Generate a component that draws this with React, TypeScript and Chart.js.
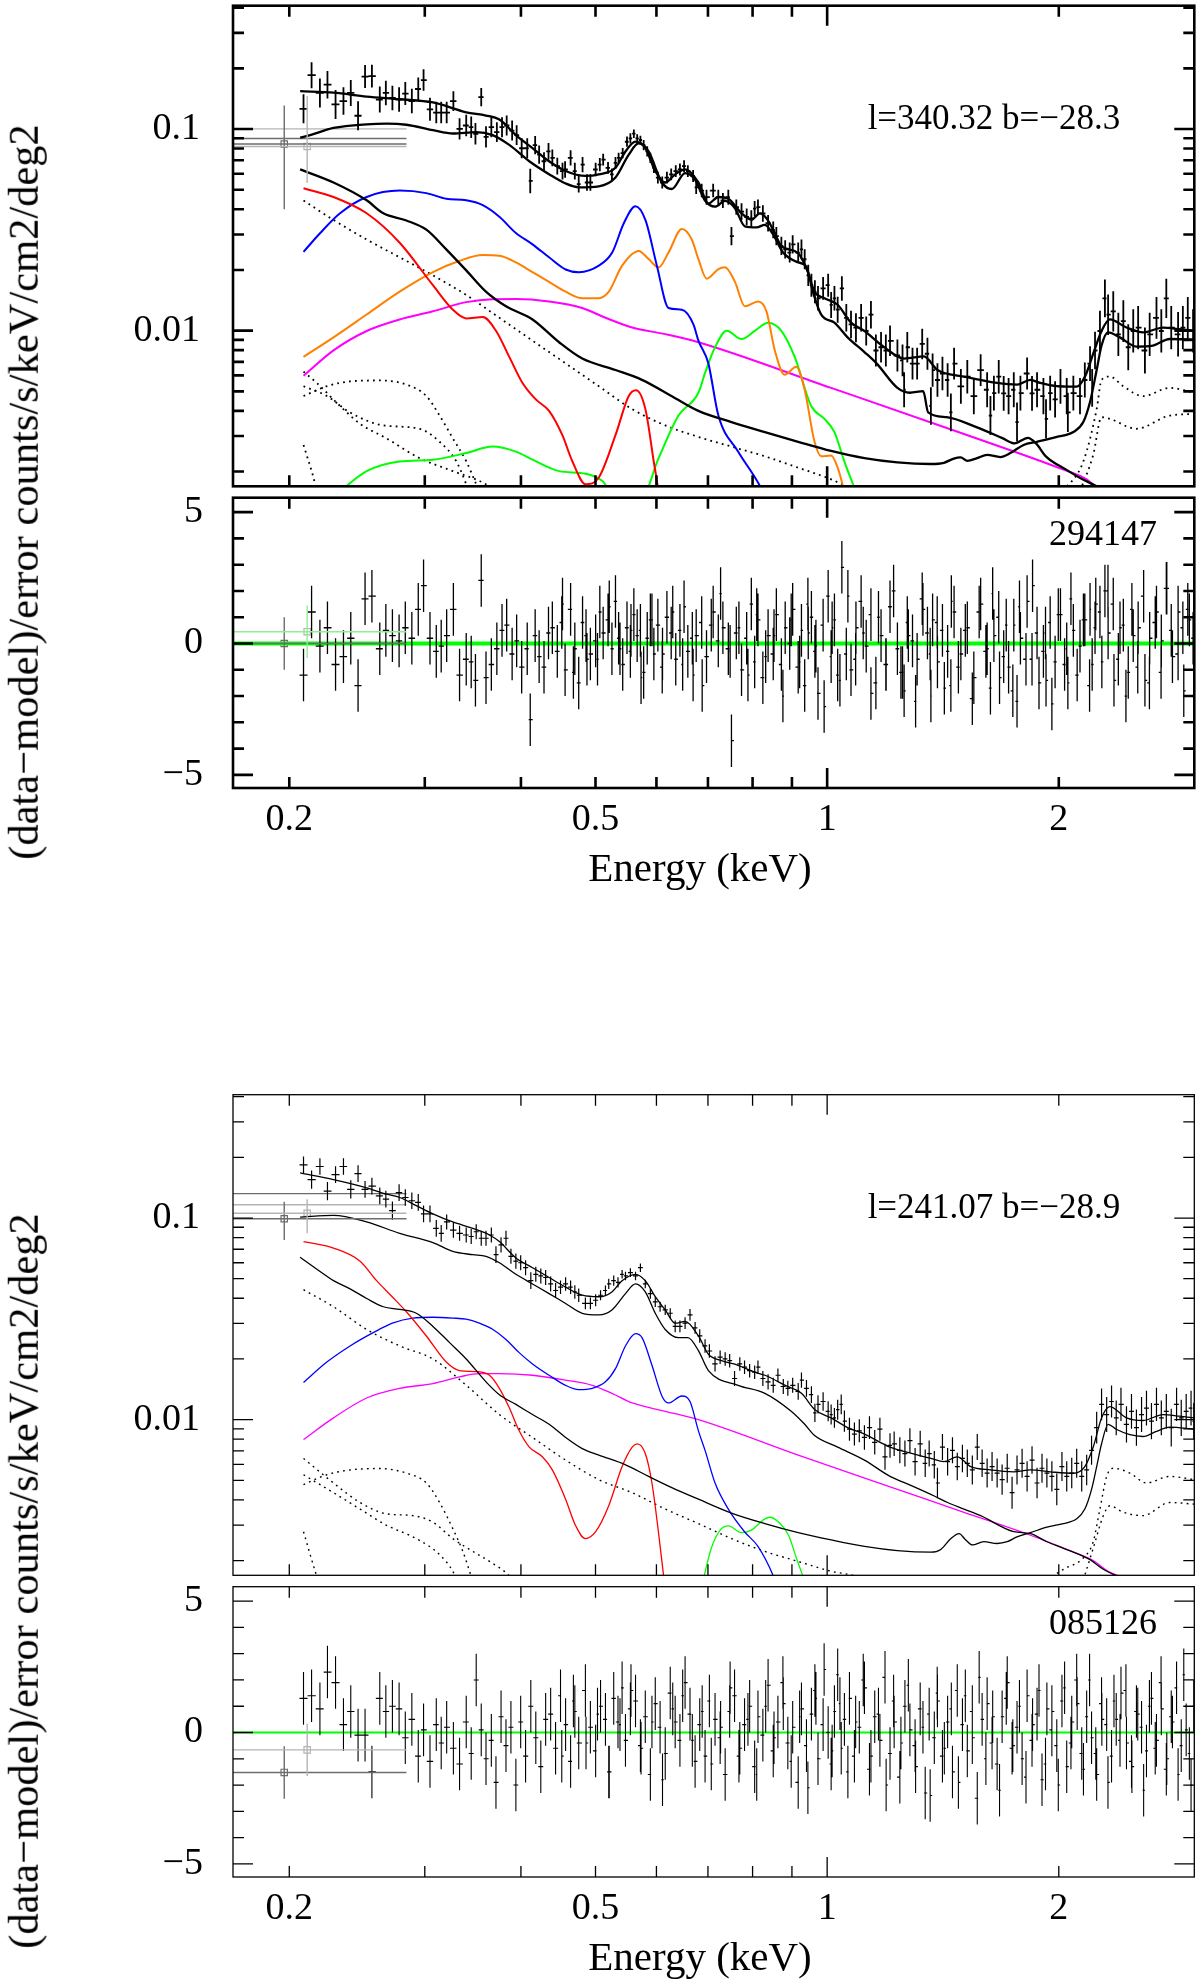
import React, { useEffect, useRef } from "react";
import { Chart, registerables } from "chart.js";

Chart.register(...registerables);

type Pt = [number, number];
type Obs = [number, number, number]; // energy (keV), flux, fractional error

const SERIF = '"Liberation Serif", "Times New Roman", serif';

// axis ranges
const E_MIN = 0.169;
const E_MAX = 3.0;
const F_MIN = 0.00169;
const F_MAX = 0.409;
const R_MIN = -5.5;
const R_MAX = 5.55;

// tick marks and labels
const energyLabels = [0.2, 0.5, 1, 2];
const energyMinor = [0.2, 0.3, 0.4, 0.5, 0.6, 0.7, 0.8, 0.9, 2];
const energyMajor = [1];
const fluxLabels = [0.01, 0.1];
const fluxMinor = [0.002, 0.003, 0.004, 0.005, 0.006, 0.007, 0.008, 0.009, 0.02, 0.03, 0.04, 0.05, 0.06, 0.07, 0.08, 0.09, 0.2, 0.3, 0.4];
const residLabels = [-5, 0, 5];
const residMinor = [-4, -3, -2, -1, 1, 2, 3, 4];

// ---------------- field 1 : l=340.32 b=-28.3 (294147)
const f1Data: Obs[] = [
  [0.2087, 0.126, 0.18], [0.2138, 0.185, 0.16], [0.2192, 0.151, 0.18], [0.2242, 0.166, 0.17], [0.2297, 0.1325, 0.18],
  [0.2352, 0.1376, 0.17], [0.2404, 0.151, 0.16], [0.2457, 0.1164, 0.18], [0.2509, 0.182, 0.14], [0.2561, 0.183, 0.14],
  [0.2622, 0.14, 0.16], [0.267, 0.151, 0.15], [0.2723, 0.1427, 0.15], [0.2778, 0.14, 0.15], [0.283, 0.15, 0.14],
  [0.2886, 0.1376, 0.15], [0.2942, 0.158, 0.14], [0.2989, 0.175, 0.13], [0.3047, 0.1253, 0.14],
  [0.3105, 0.1207, 0.13], [0.3151, 0.1207, 0.13], [0.3203, 0.1207, 0.13], [0.3268, 0.1376, 0.12], [0.3329, 0.1002, 0.13],
  [0.3396, 0.1041, 0.13], [0.3447, 0.1021, 0.13], [0.3491, 0.0947, 0.13], [0.3552, 0.1439, 0.11], [0.3603, 0.0914, 0.13],
  [0.3661, 0.1021, 0.12], [0.3722, 0.0965, 0.12], [0.378, 0.1021, 0.12], [0.3833, 0.1041, 0.12], [0.3896, 0.0983, 0.12],
  [0.3949, 0.0932, 0.12], [0.4009, 0.0803, 0.12], [0.4076, 0.0803, 0.12], [0.4113, 0.0553, 0.15], [0.4174, 0.0833, 0.11],
  [0.4224, 0.0746, 0.11], [0.4286, 0.0692, 0.11], [0.4344, 0.0774, 0.1], [0.4394, 0.0719, 0.1], [0.446, 0.0654, 0.1],
  [0.453, 0.0618, 0.1], [0.4565, 0.063, 0.1], [0.4641, 0.0719, 0.09], [0.47, 0.0618, 0.1], [0.4755, 0.0533, 0.1],
  [0.481, 0.0666, 0.09], [0.4874, 0.0543, 0.1], [0.4924, 0.0543, 0.1], [0.5002, 0.063, 0.08],
  [0.5065, 0.0666, 0.08], [0.5116, 0.0705, 0.07], [0.5191, 0.0642, 0.07], [0.5252, 0.0596, 0.07], [0.5308, 0.0679, 0.07],
  [0.5358, 0.0719, 0.06], [0.5424, 0.076, 0.06], [0.5494, 0.0865, 0.06], [0.555, 0.0898, 0.06], [0.5608, 0.0948, 0.05],
  [0.5664, 0.0898, 0.05], [0.5719, 0.0882, 0.05], [0.5775, 0.0833, 0.06], [0.5837, 0.0774, 0.06], [0.5892, 0.0719, 0.06],
  [0.5954, 0.0642, 0.06], [0.6026, 0.0574, 0.07], [0.6105, 0.0543, 0.07], [0.6191, 0.0574, 0.07], [0.6271, 0.0596, 0.07],
  [0.6357, 0.0618, 0.07], [0.6437, 0.063, 0.07], [0.6517, 0.0654, 0.07], [0.6591, 0.0618, 0.07], [0.6696, 0.0585, 0.07],
  [0.6758, 0.0514, 0.08],
  [0.687, 0.0495, 0.08], [0.697, 0.0459, 0.09], [0.711, 0.0495, 0.08], [0.722, 0.0459, 0.09], [0.732, 0.0442, 0.09],
  [0.744, 0.0459, 0.09], [0.751, 0.0294, 0.11], [0.762, 0.041, 0.09], [0.774, 0.0389, 0.1], [0.786, 0.0367, 0.1],
  [0.797, 0.036, 0.1], [0.805, 0.0403, 0.09], [0.813, 0.041, 0.09], [0.825, 0.0381, 0.1], [0.838, 0.0341, 0.1],
  [0.851, 0.0316, 0.1], [0.859, 0.0294, 0.11], [0.872, 0.0263, 0.11], [0.882, 0.0253, 0.11], [0.894, 0.0244, 0.12],
  [0.902, 0.0268, 0.11], [0.917, 0.0244, 0.12], [0.926, 0.0253, 0.12], [0.935, 0.0226, 0.12], [0.945, 0.0188, 0.13],
  [0.954, 0.0168, 0.14], [0.964, 0.0156, 0.14], [0.973, 0.01446, 0.15], [0.988, 0.0162, 0.14], [1.003, 0.0168, 0.14],
  [1.012, 0.01342, 0.16], [1.022, 0.01446, 0.15], [1.032, 0.01271, 0.16], [1.045, 0.0162, 0.15], [1.059, 0.01157, 0.17],
  [1.074, 0.01073, 0.17], [1.09, 0.01034, 0.18], [1.107, 0.01157, 0.17], [1.124, 0.00996, 0.18], [1.14, 0.012, 0.17],
  [1.157, 0.00797, 0.2], [1.175, 0.00827, 0.19], [1.192, 0.00797, 0.2], [1.207, 0.0089, 0.19], [1.234, 0.00753, 0.2],
  [1.253, 0.00712, 0.2], [1.259, 0.00509, 0.22], [1.271, 0.00827, 0.19], [1.291, 0.00686, 0.2], [1.309, 0.00686, 0.2],
  [1.329, 0.00859, 0.19], [1.35, 0.00768, 0.2], [1.364, 0.00423, 0.24], [1.371, 0.00637, 0.21], [1.391, 0.00569, 0.21],
  [1.412, 0.00613, 0.21], [1.434, 0.00569, 0.21], [1.448, 0.00393, 0.24], [1.462, 0.00686, 0.2], [1.492, 0.00529, 0.22],
  [1.521, 0.00591, 0.21], [1.551, 0.00473, 0.23], [1.583, 0.00637, 0.2], [1.614, 0.00509, 0.22], [1.63, 0.00379, 0.25],
  [1.647, 0.0049, 0.22], [1.671, 0.00591, 0.21], [1.696, 0.00488, 0.22], [1.721, 0.00473, 0.23], [1.748, 0.00509, 0.22],
  [1.765, 0.00352, 0.25], [1.783, 0.0049, 0.22], [1.819, 0.00613, 0.2], [1.846, 0.00488, 0.22], [1.874, 0.00509, 0.22],
  [1.91, 0.00473, 0.23], [1.925, 0.00365, 0.25], [1.949, 0.0049, 0.22], [1.978, 0.00456, 0.23], [2.01, 0.00529, 0.22],
  [2.048, 0.00473, 0.23], [2.055, 0.00393, 0.25], [2.089, 0.0049, 0.22], [2.131, 0.00473, 0.23], [2.162, 0.00569, 0.22],
  [2.196, 0.00686, 0.22], [2.21, 0.0052, 0.24], [2.229, 0.00797, 0.24],
  [2.262, 0.00996, 0.26], [2.296, 0.01446, 0.24], [2.318, 0.012, 0.26], [2.354, 0.01246, 0.26], [2.39, 0.00959, 0.28],
  [2.426, 0.01115, 0.27], [2.462, 0.00827, 0.3], [2.499, 0.00996, 0.28], [2.536, 0.01034, 0.28], [2.588, 0.00797, 0.3],
  [2.625, 0.00959, 0.28], [2.679, 0.01157, 0.27], [2.718, 0.00996, 0.28], [2.759, 0.01446, 0.25], [2.8, 0.01034, 0.28],
  [2.858, 0.00959, 0.29], [2.899, 0.01034, 0.28], [2.942, 0.01157, 0.27], [2.989, 0.00996, 0.28],
];

// residuals of the points above, in the same order
const f1Resid: number[] = [
  -1.2, 1.2, -0.1, 0.6, -0.8, -0.5, 0.2, -1.6, 1.7, 1.8, -0.2, 0.5, 0.3, 0.1, 0.6, 0.2, 1.3, 2.2, 0.2,
  -0.3, -0.1, 0.3, 1.3, -1.2, -0.6, -0.7, -1.4, 2.4, -1.3, -0.8, -0.2, 0.5, 0.7, -0.4, 0.1, -0.9, -0.2, -2.9, 0.3, -0.5,
  -0.9, 0.4, 0.6, -0.3, 1.5, -1.0, 1.3, -0.2, -1.5, 0.8, -0.6, -0.4, 0.1, 1.2, 0.4, 0.9, -0.2, 1.6, 0.2, -0.8,
  0.6, -0.3, 1.1, 0.3, 0.5, -1.1, 0.2, 0.9, -0.4, 0.7, -0.9, 1.0, 0.4, -0.6, 0.5, 1.4, -0.3, -1.2, 0.3, 0.8,
  -0.5, 1.2, 0.1, 0.6, -0.2, -3.7, 0.4, -1.0, 0.2, 1.5, -0.7, 0.9, -1.3, 0.3, -0.4, 1.1, -0.8, 0.6, 0.0, 1.3,
  -0.9, 0.5, -1.6, 0.4, 1.0, -0.3, -1.9, 0.7, 1.8, -0.5, 0.9, -1.2, 2.9, -0.4, -1.0, 0.6, 1.6, -0.1, 1.1, -1.5,
  0.3, -0.8, 1.4, -0.2, -1.1, -1.8, 0.8, 0.1, -0.6, 1.7, 0.4, -2.0, 0.9, -0.7, 0.5, -0.3, -1.6, 1.2, -0.4, 0.6,
  -1.3, 1.5, -0.2, -1.7, 0.3, 1.0, -0.5, -0.9, 0.7, -2.2, 0.2, 1.6, -0.6, 0.4, -0.3, -1.4, 0.8, -0.7, 1.1, -0.2,
  -1.5, 0.5, -0.1, 0.9, 1.3, -0.8, 0.6, 1.2, 2.0, 0.4, 1.5, -0.6, 0.7, -1.1, 0.3, 0.6, -1.4, 0.2, 1.2, 0.1,
  2.1, 0.5, -0.4, 0.6, 1.3, 0.2, -0.5, 0.8, 0.3, -0.2,
];

// residuals of the second spectrum (energy, residual)
const f1ResidB: Pt[] = [
  [0.452, 0.8], [0.468, -1.1], [0.486, 0.3], [0.503, -0.6], [0.521, 1.4], [0.538, -0.2], [0.556, 0.5], [0.573, -1.3],
  [0.592, 0.9], [0.611, -0.4], [0.63, 1.2], [0.649, -0.8], [0.668, 0.2], [0.688, -1.6], [0.707, 0.7], [0.727, 1.9],
  [0.748, -0.3], [0.768, 0.6], [0.789, -1.2], [0.81, 1.1], [0.832, -0.5], [0.853, 0.3], [0.876, -2.0], [0.898, 0.9],
  [0.921, -0.7], [0.944, 1.5], [0.967, -0.1], [0.991, -2.4], [1.015, 0.6], [1.039, -1.4], [1.064, 1.8], [1.089, -0.6],
  [1.114, 0.4], [1.14, -1.9], [1.166, 1.0], [1.193, -0.8], [1.22, 2.0], [1.247, -1.1], [1.275, 0.3], [1.303, -2.2],
  [1.332, 1.3], [1.361, -0.4], [1.39, 0.8], [1.42, -1.7], [1.45, 1.6], [1.481, -0.9], [1.512, 0.5], [1.544, -2.1],
  [1.576, 1.2], [1.608, -0.3], [1.641, 1.9], [1.675, -1.3], [1.709, 0.7], [1.743, -1.8], [1.778, 1.4], [1.813, -0.6],
  [1.849, 2.2], [1.885, -1.5], [1.922, 0.4], [1.959, -2.3], [1.997, 1.1], [2.035, -0.8], [2.074, 1.7], [2.113, -1.2],
  [2.153, 0.9], [2.193, -1.6], [2.234, 1.5], [2.275, -0.7], [2.317, 2.0], [2.359, -1.4], [2.402, 0.6], [2.445, -2.0],
  [2.489, 1.3], [2.533, -0.9], [2.578, 1.8], [2.623, -1.5], [2.669, 0.8], [2.716, -1.1], [2.763, 2.1], [2.81, -0.5],
  [2.858, 1.2], [2.907, -1.8], [2.956, 0.9],
];

const f1Total: Pt[] = [
  [0.2066, 0.1542], [0.2283, 0.1514], [0.2521, 0.1448], [0.2783, 0.1405], [0.3074, 0.1354], [0.3396, 0.1211],
  [0.3602, 0.1167], [0.375, 0.1115], [0.394, 0.0933], [0.4141, 0.0804], [0.4351, 0.0692], [0.4572, 0.0619],
  [0.4854, 0.0585], [0.505, 0.0596], [0.5308, 0.0643], [0.5469, 0.0774], [0.5634, 0.0866], [0.5805, 0.0804],
  [0.5979, 0.0619], [0.616, 0.0543], [0.6346, 0.0596], [0.6537, 0.0631], [0.6803, 0.0543], [0.7008, 0.0427],
  [0.7222, 0.046], [0.744, 0.0451], [0.7741, 0.0382], [0.7975, 0.0355], [0.8176, 0.0382], [0.8339, 0.0361],
  [0.8507, 0.0317], [0.8719, 0.0263], [0.917, 0.0242], [0.944, 0.0195], [0.963, 0.0156], [0.992, 0.01448],
  [1.032, 0.01344], [1.074, 0.01095], [1.118, 0.00996], [1.186, 0.00828], [1.259, 0.00727], [1.336, 0.00746],
  [1.391, 0.00638], [1.506, 0.00592], [1.663, 0.0055], [1.765, 0.0054], [1.837, 0.0057], [1.892, 0.0055],
  [1.988, 0.0053], [2.11, 0.00527], [2.163, 0.00592], [2.217, 0.00769], [2.273, 0.00996], [2.33, 0.01136],
  [2.449, 0.01036], [2.574, 0.0098], [2.732, 0.01036], [2.871, 0.01016], [3.0, 0.00996],
];
const f1Sky: Pt[] = [
  [0.2066, 0.0906], [0.2129, 0.0933], [0.2283, 0.1012], [0.2521, 0.1055], [0.2676, 0.1063], [0.2839, 0.105],
  [0.3074, 0.0987], [0.3263, 0.095], [0.3499, 0.0966], [0.3675, 0.0933], [0.3863, 0.0834], [0.4101, 0.0692],
  [0.4351, 0.0597], [0.4572, 0.0537], [0.4758, 0.0514], [0.505, 0.052], [0.5308, 0.0575], [0.5523, 0.0746],
  [0.5689, 0.085], [0.5861, 0.0774], [0.6099, 0.0543], [0.6283, 0.0504], [0.6537, 0.0605], [0.6736, 0.056],
  [0.6938, 0.0442], [0.715, 0.0412], [0.7366, 0.044], [0.7589, 0.0405], [0.7818, 0.0329], [0.8094, 0.0325],
  [0.83, 0.0335], [0.8507, 0.03], [0.8763, 0.0244], [0.917, 0.0218], [0.9393, 0.0208], [0.9583, 0.0156],
  [0.9824, 0.012], [1.022, 0.01095], [1.063, 0.00926], [1.118, 0.00783], [1.16, 0.00686], [1.234, 0.0052],
  [1.281, 0.00492], [1.333, 0.00501], [1.353, 0.00393], [1.429, 0.00372], [1.563, 0.00332], [1.692, 0.00292],
  [1.752, 0.00276], [1.823, 0.00294], [1.868, 0.00276], [1.924, 0.00238], [2.042, 0.00205], [2.147, 0.00183],
  [2.234, 0.0017], [2.3, 0.0016],
];
const f1Particle: Pt[] = [
  [0.2066, 0.0631], [0.2283, 0.0543], [0.2521, 0.0443], [0.265, 0.0382], [0.2839, 0.0352], [0.3014, 0.0317],
  [0.3199, 0.0253], [0.3396, 0.0199], [0.3602, 0.0156], [0.3825, 0.0132], [0.4141, 0.01136], [0.4484, 0.00876],
  [0.4806, 0.00727], [0.5308, 0.00638], [0.5745, 0.0057], [0.6283, 0.00473], [0.6803, 0.004], [0.751, 0.00352],
  [0.83, 0.00314], [0.917, 0.00281], [1.012, 0.00253], [1.118, 0.00233], [1.234, 0.00222], [1.364, 0.00218],
  [1.418, 0.00221], [1.461, 0.00232], [1.491, 0.00235], [1.521, 0.00226], [1.566, 0.00233], [1.614, 0.00242],
  [1.679, 0.00236], [1.73, 0.00247], [1.8, 0.00271], [1.873, 0.00281], [1.988, 0.00297], [2.089, 0.00314],
  [2.152, 0.00352], [2.195, 0.0044], [2.24, 0.00638], [2.273, 0.00844], [2.318, 0.0098], [2.401, 0.00926],
  [2.523, 0.00834], [2.651, 0.00843], [2.786, 0.00909], [3.0, 0.00902],
];
const f1Red: Pt[] = [
  [0.2087, 0.0508], [0.2283, 0.046], [0.2521, 0.0382], [0.2783, 0.0273], [0.3074, 0.0168], [0.3263, 0.0127],
  [0.3396, 0.0115], [0.3568, 0.01167], [0.3712, 0.00998], [0.3863, 0.00741], [0.4019, 0.0055], [0.4182, 0.00456],
  [0.4351, 0.004], [0.4528, 0.00303], [0.4665, 0.00225], [0.4854, 0.00173], [0.505, 0.00187], [0.5308, 0.00303],
  [0.5523, 0.00474], [0.5645, 0.00506], [0.5805, 0.00408], [0.5951, 0.00225], [0.604, 0.00155], [0.61, 0.001],
];
const f1Blue: Pt[] = [
  [0.2087, 0.02459], [0.2194, 0.0305], [0.2328, 0.0382], [0.2521, 0.046], [0.2783, 0.0495], [0.3014, 0.0481],
  [0.3199, 0.0451], [0.3396, 0.0443], [0.3568, 0.0419], [0.375, 0.0367], [0.394, 0.0305], [0.4141, 0.0268],
  [0.4351, 0.0231], [0.4572, 0.0201], [0.4758, 0.0195], [0.505, 0.021], [0.5256, 0.0244], [0.5442, 0.0341],
  [0.5634, 0.0414], [0.5805, 0.0354], [0.6008, 0.021], [0.6221, 0.01295], [0.6473, 0.0127], [0.6702, 0.01075],
  [0.6803, 0.00892], [0.7008, 0.00688], [0.7222, 0.00379], [0.7664, 0.00251], [0.8176, 0.0017], [0.83, 0.0015],
];
const f1Orange: Pt[] = [
  [0.2087, 0.00741], [0.2283, 0.00926], [0.2521, 0.01202], [0.2783, 0.0156], [0.3074, 0.0195], [0.333, 0.0222],
  [0.3568, 0.0237], [0.375, 0.0235], [0.394, 0.0218], [0.4141, 0.0195], [0.4351, 0.01745], [0.4572, 0.0156],
  [0.4806, 0.01448], [0.505, 0.01448], [0.5203, 0.0156], [0.5414, 0.021], [0.5689, 0.02485], [0.5861, 0.02265],
  [0.6039, 0.0206], [0.6221, 0.0244], [0.6473, 0.0319], [0.6669, 0.0283], [0.6803, 0.02265], [0.6973, 0.01811],
  [0.7222, 0.0202], [0.7366, 0.0206], [0.7589, 0.01745], [0.7818, 0.0132], [0.8133, 0.01395], [0.8339, 0.01247],
  [0.855, 0.00798], [0.8805, 0.00604], [0.9118, 0.00662], [0.9348, 0.0051], [0.963, 0.00281], [0.9824, 0.00238],
  [1.012, 0.0024], [1.032, 0.00209], [1.048, 0.0017], [1.06, 0.0014],
];
const f1Green: Pt[] = [
  [0.2328, 0.0016], [0.2521, 0.00201], [0.2783, 0.002244], [0.3074, 0.00229], [0.3396, 0.00247], [0.3675, 0.00266],
  [0.394, 0.00251], [0.4141, 0.00229], [0.4484, 0.00201], [0.4854, 0.00195], [0.51, 0.0018], [0.5308, 0.0015],
  [0.5745, 0.0015], [0.6039, 0.00233], [0.6409, 0.00379], [0.6803, 0.00492], [0.6938, 0.00615], [0.715, 0.00828],
  [0.7404, 0.00998], [0.7741, 0.00909], [0.8054, 0.00998], [0.838, 0.01095], [0.8719, 0.00998], [0.9074, 0.00741],
  [0.9535, 0.00423], [0.9921, 0.00365], [1.022, 0.00314], [1.053, 0.00224], [1.096, 0.0015],
];
const f1Magenta: Pt[] = [
  [0.2087, 0.00597], [0.2283, 0.00798], [0.2521, 0.00996], [0.2783, 0.01136], [0.3074, 0.01247], [0.3396, 0.01385],
  [0.3675, 0.01432], [0.394, 0.01435], [0.4351, 0.01395], [0.4806, 0.01295], [0.5152, 0.01158], [0.558, 0.01036],
  [0.616, 0.00961], [0.6803, 0.00876], [1.012, 0.0052], [1.506, 0.00307], [2.028, 0.002045], [2.174, 0.00183],
  [2.262, 0.0016],
];
const f1Dot1: Pt[] = [
  [0.2087, 0.0442], [0.2283, 0.0354], [0.2521, 0.0283], [0.2783, 0.0231], [0.3074, 0.0188], [0.3396, 0.01503],
  [0.375, 0.01158], [0.4141, 0.00892], [0.4572, 0.00688], [0.505, 0.0053], [0.558, 0.00408], [0.616, 0.00339],
  [0.6803, 0.00297], [0.751, 0.00266], [0.83, 0.00238], [0.917, 0.00209], [1.012, 0.00183], [1.063, 0.00168], [1.1, 0.0016],
];
const f1Dot2: Pt[] = [
  [0.2087, 0.00626], [0.2172, 0.0055], [0.2328, 0.00423], [0.2472, 0.00345], [0.2676, 0.00292], [0.2954, 0.00233],
  [0.3263, 0.00201], [0.3602, 0.00173], [0.37, 0.0016],
];
const f1Dot3: Pt[] = [
  [0.2087, 0.00474], [0.2238, 0.0053], [0.2398, 0.0056], [0.2622, 0.00566], [0.2839, 0.0054], [0.3014, 0.00474],
  [0.3136, 0.00379], [0.3263, 0.00292], [0.3396, 0.00225], [0.3499, 0.00173], [0.353, 0.0016],
];
const f1Dot4: Pt[] = [
  [0.2087, 0.0053], [0.2238, 0.00474], [0.2398, 0.00393], [0.2649, 0.00339], [0.2954, 0.00326], [0.3136, 0.00281],
  [0.3296, 0.00225], [0.3396, 0.00173], [0.342, 0.0016],
];
const f1Dot5: Pt[] = [[0.2087, 0.00271], [0.2161, 0.00173], [0.217, 0.0016]];
const f1Dot6: Pt[] = [
  [2.028, 0.0016], [2.152, 0.00224], [2.24, 0.00408], [2.273, 0.0057], [2.33, 0.00592], [2.425, 0.0053],
  [2.574, 0.00473], [2.786, 0.0052], [3.0, 0.00492],
];
const f1Dot7: Pt[] = [
  [2.131, 0.0016], [2.217, 0.00242], [2.273, 0.00372], [2.33, 0.00365], [2.523, 0.00326], [2.786, 0.00379], [3.0, 0.00386],
];
// ROSAT points: centre energy, band edges, value, error range, model
const f1Rosat = [
  { e: 0.197, lo: 0.169, hi: 0.284, v: 0.0843, vLo: 0.04, vHi: 0.131, model: 0.0898 },
  { e: 0.211, lo: 0.169, hi: 0.284, v: 0.0819, vLo: 0.054, vHi: 0.146, model: 0.1002 },
];
const f1RosatResid = [0.0, 0.45];

// ---------------- field 2 : l=241.07 b=-28.9 (085126)
const f2Data: Obs[] = [
  [0.2087, 0.1836, 0.1], [0.2138, 0.1552, 0.11], [0.2192, 0.1801, 0.1], [0.2242, 0.1361, 0.11], [0.2297, 0.1641, 0.1],
  [0.2352, 0.1801, 0.1], [0.2404, 0.1386, 0.11], [0.2457, 0.166, 0.1], [0.2509, 0.1386, 0.1], [0.2561, 0.1439, 0.1],
  [0.2622, 0.1288, 0.1], [0.267, 0.124, 0.1], [0.2723, 0.1088, 0.11], [0.2778, 0.1336, 0.1], [0.283, 0.1264, 0.1],
  [0.2886, 0.1218, 0.1], [0.2942, 0.1195, 0.1], [0.2989, 0.1049, 0.1], [0.3047, 0.1049, 0.1],
  [0.3105, 0.0888, 0.1], [0.3151, 0.084, 0.1], [0.3203, 0.0956, 0.09], [0.3268, 0.0871, 0.09], [0.3329, 0.084, 0.09],
  [0.3396, 0.0824, 0.09], [0.3447, 0.081, 0.09], [0.3499, 0.0855, 0.09], [0.3552, 0.0794, 0.09], [0.3603, 0.0794, 0.09],
  [0.3661, 0.0824, 0.09], [0.3712, 0.0658, 0.1], [0.3769, 0.0736, 0.09], [0.3825, 0.0794, 0.09], [0.3882, 0.0646, 0.09],
  [0.394, 0.0611, 0.09], [0.3997, 0.06, 0.09], [0.4056, 0.0567, 0.09], [0.412, 0.0489, 0.1], [0.4182, 0.0526, 0.09],
  [0.4245, 0.0516, 0.09], [0.4307, 0.0507, 0.09], [0.4372, 0.0471, 0.09], [0.4437, 0.0437, 0.09], [0.4503, 0.0454, 0.08],
  [0.4572, 0.0471, 0.08], [0.4641, 0.0454, 0.08], [0.47, 0.043, 0.08], [0.4755, 0.0414, 0.08],
  [0.4851, 0.0377, 0.07], [0.4924, 0.0377, 0.07], [0.5002, 0.0391, 0.07], [0.5076, 0.0414, 0.06], [0.5151, 0.0437, 0.06],
  [0.5202, 0.0471, 0.06], [0.528, 0.0489, 0.06], [0.5348, 0.048, 0.06], [0.5414, 0.0526, 0.05], [0.5469, 0.0516, 0.05],
  [0.555, 0.0536, 0.05], [0.5636, 0.0516, 0.05], [0.5719, 0.0567, 0.05], [0.5803, 0.0471, 0.05], [0.5892, 0.0422, 0.06],
  [0.5979, 0.0384, 0.06], [0.6066, 0.0363, 0.06], [0.616, 0.035, 0.06], [0.6253, 0.0337, 0.06], [0.6346, 0.029, 0.07],
  [0.6437, 0.029, 0.07], [0.6537, 0.0301, 0.07], [0.6634, 0.0331, 0.07], [0.6736, 0.0285, 0.07],
  [0.683, 0.026, 0.08], [0.694, 0.0232, 0.08], [0.703, 0.0219, 0.08], [0.715, 0.0189, 0.09], [0.726, 0.0204, 0.08],
  [0.737, 0.02, 0.08], [0.747, 0.0196, 0.08], [0.758, 0.016, 0.09], [0.77, 0.0189, 0.08], [0.781, 0.0182, 0.08],
  [0.793, 0.0175, 0.08], [0.805, 0.0172, 0.08], [0.813, 0.0182, 0.08], [0.825, 0.016, 0.09], [0.838, 0.0154, 0.09],
  [0.851, 0.0148, 0.09], [0.863, 0.0166, 0.08], [0.877, 0.0146, 0.09], [0.889, 0.0143, 0.09], [0.902, 0.0148, 0.09],
  [0.917, 0.0138, 0.1], [0.926, 0.0157, 0.09], [0.94, 0.0143, 0.1], [0.954, 0.0133, 0.1], [0.964, 0.0108, 0.11],
  [0.973, 0.0119, 0.11], [0.988, 0.0123, 0.11], [1.003, 0.011, 0.12],
  [1.012, 0.0106, 0.12], [1.022, 0.0102, 0.12], [1.032, 0.0112, 0.12], [1.043, 0.0119, 0.12], [1.053, 0.00983, 0.13],
  [1.069, 0.00897, 0.14], [1.085, 0.00848, 0.14], [1.101, 0.0088, 0.14], [1.118, 0.00816, 0.15], [1.135, 0.00913, 0.14],
  [1.153, 0.00772, 0.15], [1.171, 0.00897, 0.14], [1.189, 0.00654, 0.16], [1.207, 0.00745, 0.15], [1.222, 0.00759, 0.15],
  [1.243, 0.00704, 0.16], [1.262, 0.00679, 0.16], [1.281, 0.00787, 0.15], [1.301, 0.00619, 0.17], [1.321, 0.00759, 0.16],
  [1.341, 0.00607, 0.17], [1.357, 0.00679, 0.16], [1.378, 0.00597, 0.17], [1.391, 0.00485, 0.19], [1.412, 0.00731, 0.16],
  [1.434, 0.00619, 0.17], [1.455, 0.00704, 0.16], [1.476, 0.00585, 0.17], [1.499, 0.00642, 0.17], [1.521, 0.00607, 0.17],
  [1.544, 0.00563, 0.18], [1.567, 0.00731, 0.16], [1.59, 0.00607, 0.17], [1.614, 0.00543, 0.18], [1.638, 0.00585, 0.18],
  [1.663, 0.00543, 0.18], [1.688, 0.00504, 0.19], [1.714, 0.00574, 0.18], [1.739, 0.00434, 0.2], [1.765, 0.00563, 0.18],
  [1.792, 0.00607, 0.18], [1.819, 0.00523, 0.19], [1.846, 0.0063, 0.17], [1.874, 0.00485, 0.19], [1.902, 0.00574, 0.18],
  [1.93, 0.00543, 0.18], [1.959, 0.00523, 0.19], [1.988, 0.00451, 0.2], [2.019, 0.00585, 0.18], [2.048, 0.00523, 0.19],
  [2.079, 0.00543, 0.19], [2.11, 0.00607, 0.18], [2.142, 0.00523, 0.19], [2.174, 0.00563, 0.19], [2.206, 0.00704, 0.18],
  [2.24, 0.00913, 0.2], [2.273, 0.0119, 0.2], [2.308, 0.0106, 0.22], [2.342, 0.0123, 0.2], [2.375, 0.0102, 0.22],
  [2.409, 0.0119, 0.21], [2.449, 0.00948, 0.23], [2.486, 0.011, 0.22], [2.523, 0.00913, 0.23], [2.562, 0.0106, 0.22],
  [2.6, 0.0114, 0.22], [2.639, 0.00983, 0.23], [2.679, 0.0119, 0.21], [2.718, 0.0102, 0.22], [2.759, 0.011, 0.22],
  [2.8, 0.00913, 0.24], [2.845, 0.0119, 0.21], [2.885, 0.0102, 0.23], [2.928, 0.011, 0.22], [2.971, 0.0114, 0.22],
  [2.995, 0.00983, 0.23],
];

const f2Resid: number[] = [
  1.3, 1.4, 0.9, 2.3, 1.9, 0.3, 0.8, -0.1, -0.1, -1.5, 1.3, 0.8, 1.0, 0.9, -0.2, 0.5, -0.9, 0.1, -1.1, 0.3,
  -0.4, 0.2, -0.6, -1.2, 0.4, -0.8, 2.0, 0.1, -1.0, -0.3, -1.9, 0.6, -0.5, 0.2, -2.0, 0.4, -0.9, 1.0, -0.2, -1.3,
  0.5, 0.7, -0.6, 1.4, 0.3, -1.1, 0.8, -0.4, 1.6, 0.2, -0.7, 1.0, 0.5, -1.5, 1.3, 0.4, 1.7, -0.3, 0.9, 1.2,
  -0.5, 0.6, -1.6, 1.1, 0.2, -0.8, 1.5, 0.4, -0.3, 1.9, 0.7, -1.1, 0.3, -0.9, 1.2, 0.5, -0.2, -1.6, 0.8, 1.4,
  -0.6, 0.3, 1.0, -1.3, 0.6, -0.1, 1.8, -0.7, 0.4, 1.1, -0.4, 0.2, -1.9, 0.9, -0.5, 0.7, 1.6, -1.0, 0.3, 0.0,
  -1.2, 0.8, 2.2, -0.6, 0.5, 1.3, -0.9, 0.2, 1.7, -1.4, 0.6, -0.3, 2.1, -0.8, 0.4, -1.7, 1.0, 0.1, -0.5, 0.9,
  -2.3, 0.7, -0.2, 1.2, -0.9, 0.4, -1.5, 1.6, 0.3, -0.7, 0.8, -2.5, 0.5, 1.1, -0.4, -1.2, 0.6, 1.9, -0.6, 0.2,
  -1.0, 1.4, -0.3, 0.7, -1.8, 0.9, 0.1, -0.5, 1.2, -1.3, 0.4, 2.0, -0.8, 0.6, -0.2, -1.6, 1.1, 0.3, -0.9, 0.5,
  1.5, -0.4, -1.1, 0.8, 0.2, -0.7, 1.3, -0.3, 0.9, -1.4, 0.6, 1.7, -0.5, 0.1, -2.0, 1.0, 0.4, -0.8, 1.2, -0.2,
  0.7, -1.3, 1.6, 0.3, -0.6, 2.2, -0.4, 0.8, -1.9, 0.5,
];

const f2ResidB: Pt[] = [
  [0.452, -0.9], [0.468, 1.2], [0.486, -0.4], [0.503, 0.7], [0.521, -1.5], [0.538, 0.3], [0.556, 1.6], [0.573, -0.6],
  [0.592, 0.4], [0.611, -1.8], [0.63, 0.9], [0.649, 1.4], [0.668, -0.3], [0.688, 0.8], [0.707, -1.2], [0.727, 0.2],
  [0.748, 1.7], [0.768, -0.9], [0.789, 0.5], [0.81, -1.6], [0.832, 1.0], [0.853, -0.2], [0.876, 1.9], [0.898, -1.1],
  [0.921, 0.6], [0.944, -2.1], [0.967, 1.3], [0.991, 2.4], [1.015, -0.7], [1.039, 1.1], [1.064, -1.5], [1.089, 0.4],
  [1.114, 2.0], [1.14, -0.9], [1.166, 0.7], [1.193, -2.0], [1.22, 1.2], [1.247, -0.4], [1.275, 1.8], [1.303, -1.3],
  [1.332, 0.2], [1.361, -2.4], [1.39, 1.5], [1.42, -0.6], [1.45, 0.9], [1.481, -1.9], [1.512, 1.4], [1.544, -0.2],
  [1.576, 2.1], [1.608, -1.0], [1.641, 0.6], [1.675, -2.2], [1.709, 1.3], [1.743, -0.5], [1.778, 1.0], [1.813, -1.7],
  [1.849, 0.3], [1.885, 1.6], [1.922, -1.2], [1.959, 0.8], [1.997, -2.0], [2.035, 1.7], [2.074, -0.4], [2.113, 1.1],
  [2.153, -1.4], [2.193, 2.0], [2.234, -0.8], [2.275, 0.5], [2.317, -1.9], [2.359, 1.2], [2.402, -0.3], [2.445, 1.6],
  [2.489, -1.3], [2.533, 0.7], [2.578, -2.2], [2.623, 1.0], [2.669, -0.6], [2.716, 1.9], [2.763, -1.0], [2.81, 0.4],
  [2.858, -1.6], [2.907, 2.2], [2.956, -0.8],
];

const f2Total: Pt[] = [
  [0.2066, 0.1673], [0.2283, 0.1552], [0.2521, 0.1413], [0.2676, 0.1313], [0.2783, 0.1264], [0.2925, 0.1152],
  [0.3074, 0.1049], [0.3262, 0.0956], [0.3464, 0.0888], [0.3641, 0.0824], [0.375, 0.0764], [0.394, 0.0634],
  [0.4141, 0.0567], [0.4352, 0.0507], [0.4572, 0.0454], [0.4806, 0.0414], [0.505, 0.0407], [0.5252, 0.043],
  [0.5414, 0.0489], [0.5636, 0.0526], [0.5803, 0.0489], [0.5979, 0.0407], [0.616, 0.035], [0.6346, 0.0301],
  [0.6537, 0.0307], [0.6803, 0.026], [0.701, 0.0211], [0.729, 0.0196], [0.766, 0.0186], [0.805, 0.0172],
  [0.83, 0.0166], [0.882, 0.0148], [0.926, 0.0135], [0.964, 0.0112], [1.012, 0.0102], [1.063, 0.00913],
  [1.118, 0.00848], [1.207, 0.00731], [1.291, 0.00679], [1.364, 0.00642], [1.418, 0.00619], [1.476, 0.00654],
  [1.537, 0.00585], [1.63, 0.00563], [1.748, 0.00551], [1.837, 0.00563], [1.949, 0.00551], [2.089, 0.00542],
  [2.162, 0.00585], [2.217, 0.00731], [2.273, 0.0102], [2.33, 0.0116], [2.449, 0.0102], [2.574, 0.0099],
  [2.732, 0.0106], [2.871, 0.0104], [3.0, 0.0102],
];
const f2Sky: Pt[] = [
  [0.2066, 0.1011], [0.2283, 0.103], [0.2521, 0.0956], [0.2783, 0.084], [0.3074, 0.0756], [0.3262, 0.0683],
  [0.3464, 0.0658], [0.3603, 0.0646], [0.375, 0.06], [0.394, 0.0526], [0.4141, 0.0471], [0.4352, 0.0422],
  [0.4572, 0.0377], [0.4806, 0.0337], [0.505, 0.0331], [0.5252, 0.035], [0.5469, 0.0422], [0.5636, 0.0471],
  [0.5803, 0.043], [0.5979, 0.0337], [0.616, 0.028], [0.6409, 0.0255], [0.6591, 0.0255], [0.6803, 0.022],
  [0.701, 0.0175], [0.766, 0.0148], [0.83, 0.0135], [0.898, 0.011], [0.935, 0.00948], [0.964, 0.00832],
  [1.032, 0.00731], [1.118, 0.0063], [1.207, 0.00523], [1.291, 0.00468], [1.378, 0.00418], [1.434, 0.00388],
  [1.506, 0.0036], [1.583, 0.00334], [1.748, 0.00278], [1.837, 0.00272], [1.93, 0.00248], [2.028, 0.0023],
  [2.196, 0.00202], [2.285, 0.00181], [2.375, 0.00168], [2.45, 0.0016],
];
const f2Particle: Pt[] = [
  [0.2066, 0.0639], [0.2172, 0.0557], [0.2283, 0.0489], [0.2399, 0.0445], [0.2521, 0.0399], [0.265, 0.0363],
  [0.2783, 0.0352], [0.2925, 0.0337], [0.3074, 0.029], [0.3231, 0.0241], [0.3396, 0.02], [0.3603, 0.0154],
  [0.375, 0.0133], [0.394, 0.0119], [0.4141, 0.0106], [0.4352, 0.00948], [0.4572, 0.00816], [0.4806, 0.00718],
  [0.505, 0.00667], [0.5469, 0.00597], [0.5861, 0.00523], [0.6283, 0.0046], [0.6803, 0.00403], [0.751, 0.00344],
  [0.83, 0.00305], [0.917, 0.00275], [1.012, 0.00253], [1.118, 0.00235], [1.234, 0.00224], [1.364, 0.0022],
  [1.405, 0.00227], [1.448, 0.00257], [1.484, 0.00272], [1.514, 0.00253], [1.544, 0.00239], [1.598, 0.00248],
  [1.663, 0.00243], [1.714, 0.00248], [1.765, 0.00262], [1.837, 0.00275], [1.93, 0.00293], [2.028, 0.00305],
  [2.11, 0.00322], [2.162, 0.0036], [2.206, 0.00451], [2.24, 0.00585], [2.273, 0.00759], [2.318, 0.00948],
  [2.375, 0.00896], [2.474, 0.00842], [2.574, 0.00825], [2.679, 0.00875], [2.786, 0.00917], [3.0, 0.00896],
];
const f2Red: Pt[] = [
  [0.2087, 0.0764], [0.2283, 0.0709], [0.2472, 0.0611], [0.2597, 0.0489], [0.2723, 0.0406], [0.2839, 0.0343],
  [0.3014, 0.026], [0.3199, 0.0193], [0.3329, 0.0175], [0.3499, 0.0173], [0.3641, 0.0166], [0.375, 0.0143],
  [0.3863, 0.01145], [0.3979, 0.0088], [0.4101, 0.00731], [0.4265, 0.00654], [0.4394, 0.00563], [0.4572, 0.00403],
  [0.4709, 0.00299], [0.4851, 0.00257], [0.5002, 0.00278], [0.5202, 0.00374], [0.5414, 0.00585], [0.558, 0.00731],
  [0.5664, 0.00759], [0.5803, 0.00679], [0.592, 0.00485], [0.6043, 0.00267], [0.613, 0.00168], [0.62, 0.0012],
];
const f2Blue: Pt[] = [
  [0.2087, 0.0153], [0.2238, 0.0193], [0.2399, 0.0232], [0.2571, 0.027], [0.2723, 0.0301], [0.2894, 0.0319],
  [0.3074, 0.0322], [0.3262, 0.0319], [0.3396, 0.0315], [0.3532, 0.0301], [0.3678, 0.028], [0.3825, 0.025],
  [0.3979, 0.0215], [0.4141, 0.0189], [0.4352, 0.0166], [0.4572, 0.0148], [0.4755, 0.0141], [0.4952, 0.0143],
  [0.5151, 0.0154], [0.5308, 0.0179], [0.5469, 0.0232], [0.5636, 0.0267], [0.5747, 0.0255], [0.592, 0.0186],
  [0.6105, 0.013], [0.6222, 0.0121], [0.6474, 0.0131], [0.6634, 0.0123], [0.6803, 0.0088], [0.694, 0.00704],
  [0.715, 0.00485], [0.744, 0.0036], [0.781, 0.00278], [0.813, 0.00235], [0.851, 0.00168], [0.86, 0.0015],
];
const f2Green: Pt[] = [
  [0.69, 0.0016], [0.707, 0.0023], [0.726, 0.00283], [0.744, 0.00297], [0.774, 0.00275], [0.797, 0.00283],
  [0.83, 0.00322], [0.843, 0.00328], [0.865, 0.0031], [0.891, 0.00267], [0.912, 0.00206], [0.934, 0.0016],
];
const f2Magenta: Pt[] = [
  [0.2087, 0.00797], [0.2283, 0.0102], [0.2521, 0.0128], [0.2783, 0.0143], [0.3074, 0.0151], [0.3329, 0.0163],
  [0.3532, 0.0169], [0.375, 0.0169], [0.4141, 0.0166], [0.4572, 0.0157], [0.4952, 0.0148], [0.5252, 0.0135],
  [0.558, 0.0121], [0.616, 0.011], [0.6803, 0.01], [0.917, 0.00667], [1.234, 0.00451], [1.506, 0.00347],
  [1.837, 0.00267], [2.131, 0.00214], [2.217, 0.002], [2.318, 0.00177], [2.39, 0.00168], [2.45, 0.0016],
];
const f2Dot1: Pt[] = [
  [0.2087, 0.0441], [0.2283, 0.0363], [0.2521, 0.028], [0.2783, 0.0232], [0.3074, 0.02], [0.3396, 0.0148],
  [0.375, 0.0106], [0.4141, 0.00816], [0.4572, 0.0063], [0.505, 0.00504], [0.558, 0.00434], [0.616, 0.0036],
  [0.6803, 0.00305], [0.751, 0.00257], [0.83, 0.00222], [0.917, 0.00198], [1.012, 0.00177], [1.085, 0.00168], [1.12, 0.0016],
];
const f2Dot2: Pt[] = [
  [0.2087, 0.00476], [0.2238, 0.00533], [0.2399, 0.00563], [0.2622, 0.00572], [0.2839, 0.00543], [0.3014, 0.00485],
  [0.3136, 0.00388], [0.3262, 0.00288], [0.3362, 0.00222], [0.343, 0.00177], [0.346, 0.0016],
];
const f2Dot3: Pt[] = [
  [0.2087, 0.00642], [0.2283, 0.00485], [0.2472, 0.00388], [0.2676, 0.00341], [0.2894, 0.00334], [0.3074, 0.0031],
  [0.3262, 0.00257], [0.3464, 0.00222], [0.3641, 0.00198], [0.3863, 0.00168], [0.39, 0.0016],
];
const f2Dot4: Pt[] = [
  [0.2087, 0.00533], [0.2283, 0.00434], [0.2472, 0.0036], [0.2676, 0.00299], [0.2925, 0.00257], [0.3136, 0.00214],
  [0.3262, 0.00177], [0.33, 0.0016],
];
const f2Dot5: Pt[] = [[0.2087, 0.00278], [0.2161, 0.00177], [0.218, 0.0016]];
const f2Dot6: Pt[] = [
  [1.93, 0.0016], [2.028, 0.00181], [2.152, 0.00206], [2.217, 0.00248], [2.262, 0.0036], [2.308, 0.00523],
  [2.354, 0.00574], [2.474, 0.00543], [2.6, 0.00485], [2.786, 0.00523], [3.0, 0.00504],
];
const f2Dot7: Pt[] = [
  [2.152, 0.0016], [2.217, 0.0023], [2.285, 0.00334], [2.33, 0.00374], [2.426, 0.00347], [2.574, 0.00334],
  [2.786, 0.00388], [3.0, 0.00381],
];
const f2Rosat = [
  { e: 0.197, lo: 0.169, hi: 0.284, v: 0.0992, vLo: 0.0779, vHi: 0.1204, model: 0.1321 },
  { e: 0.211, lo: 0.169, hi: 0.284, v: 0.1056, vLo: 0.084, vHi: 0.124, model: 0.1164 },
];
const f2RosatResid = [-1.52, -0.66];

// ---------------- drawing helpers
type Rosat = { e: number; lo: number; hi: number; v: number; vLo: number; vHi: number; model: number };

interface Field {
  top: number;
  bold: boolean;
  label: string;
  obsId: string;
  data: Obs[];
  resid: number[];
  residB: Pt[];
  total: Pt[];
  sky: Pt[];
  particle: Pt[];
  comps: { pts: Pt[]; color: string }[];
  dotted: Pt[][];
  rosat: Rosat[];
  rosatResid: number[];
  rosatResidColors: string[];
}

const ROSAT_COLORS = ["#6c6c6c", "#b4b4b4"];

const xy = (pts: Pt[]) => pts.map(([x, y]) => ({ x, y }));

const curve = (pts: Pt[], color: string, width: number, dash: number[] = []) => ({
  data: xy(pts),
  showLine: true,
  borderColor: color,
  borderWidth: width,
  borderDash: dash,
  pointRadius: 0,
  cubicInterpolationMode: "monotone",
  fill: false,
});

const binEdges = (es: number[]) =>
  es.map((e, i) => [
    i > 0 ? Math.sqrt(es[i - 1] * e) : e / 1.012,
    i < es.length - 1 ? Math.sqrt(es[i + 1] * e) : e * 1.012,
  ]);

// error crosses, placed with the chart's own scales
const crossPlugin = {
  id: "crosses",
  afterDatasetsDraw(chart: any) {
    const { ctx, chartArea: a } = chart;
    const xs = chart.scales.x;
    const ys = chart.scales.y;
    ctx.save();
    ctx.beginPath();
    ctx.rect(a.left, a.top, a.right - a.left, a.bottom - a.top);
    ctx.clip();
    chart.data.datasets.forEach((ds: any) => {
      if (!ds.bars) return;
      ctx.strokeStyle = ds.barColor;
      ctx.lineWidth = ds.barWidth;
      ctx.beginPath();
      ds.bars.forEach((b: any) => {
        const px = xs.getPixelForValue(b.x);
        const py = ys.getPixelForValue(b.y);
        ctx.moveTo(xs.getPixelForValue(b.x0), py);
        ctx.lineTo(xs.getPixelForValue(b.x1), py);
        ctx.moveTo(px, ys.getPixelForValue(b.y0));
        ctx.lineTo(px, ys.getPixelForValue(b.y1));
      });
      ctx.stroke();
    });
    ctx.restore();
  },
};

// frame with inward ticks on all four sides
const makeFrame = (lw: number, yMinor: number[], yMajor: number[]) => ({
  id: "frame",
  afterDraw(chart: any) {
    const { ctx, chartArea: a } = chart;
    const xs = chart.scales.x;
    const ys = chart.scales.y;
    ctx.save();
    ctx.strokeStyle = "#000";
    ctx.lineWidth = lw;
    ctx.strokeRect(a.left, a.top, a.right - a.left, a.bottom - a.top);
    ctx.beginPath();
    const xt = (vals: number[], len: number) =>
      vals.forEach((v) => {
        const p = xs.getPixelForValue(v);
        ctx.moveTo(p, a.bottom);
        ctx.lineTo(p, a.bottom - len);
        ctx.moveTo(p, a.top);
        ctx.lineTo(p, a.top + len);
      });
    const yt = (vals: number[], len: number) =>
      vals.forEach((v) => {
        const p = ys.getPixelForValue(v);
        ctx.moveTo(a.left, p);
        ctx.lineTo(a.left + len, p);
        ctx.moveTo(a.right, p);
        ctx.lineTo(a.right - len, p);
      });
    xt(energyMinor, 11);
    xt(energyMajor, 20);
    yt(yMinor, 11);
    yt(yMajor, 20);
    ctx.stroke();
    ctx.restore();
  },
});

const tickFont = { family: SERIF, size: 38 };

// fixed axis boxes so both panels share the same plot edges
const fixWidth = (s: any) => {
  s.width = 233;
  s.paddingTop = 0;
  s.paddingBottom = 0;
};
const fixHeight = (s: any) => {
  s.height = 104;
  s.paddingLeft = 0;
  s.paddingRight = 0;
};

const SpectrumPanel: React.FC<{ f: Field }> = ({ f }) => {
  const ref = useRef<HTMLCanvasElement | null>(null);

  useEffect(() => {
    if (!ref.current) return;
    const lw = f.bold ? 2.3 : 1.3;
    const es = f.data.map((d) => d[0]);
    const edges = binEdges(es);
    const datasets: any[] = [
      {
        data: f.data.map(([x, y]) => ({ x, y })),
        pointRadius: 0,
        bars: f.data.map(([e, v, fr], i) => ({
          x: e, x0: edges[i][0], x1: edges[i][1], y: v, y0: v / (1 + fr), y1: v * (1 + fr),
        })),
        barColor: "#000",
        barWidth: f.bold ? 1.8 : 1.2,
      },
      curve(f.total, "#000", lw),
      curve(f.sky, "#000", lw),
      curve(f.particle, "#000", lw),
      ...f.comps.map((c) => curve(c.pts, c.color, f.bold ? 2 : 1.3)),
      ...f.dotted.map((d) => curve(d, "#000", f.bold ? 1.8 : 1.4, [1.8, 4.2])),
    ];
    f.rosat.forEach((r, i) => {
      const col = ROSAT_COLORS[i];
      datasets.push(curve([[r.lo, r.model], [r.hi, r.model]], col, 1.4));
      datasets.push({
        data: [{ x: r.e, y: r.v }],
        pointStyle: "rect",
        pointRadius: 4.5,
        borderColor: col,
        backgroundColor: "rgba(0,0,0,0)",
        pointBorderWidth: 1.2,
        bars: [{ x: r.e, x0: r.lo, x1: r.hi, y: r.v, y0: r.vLo, y1: r.vHi }],
        barColor: col,
        barWidth: 1.4,
      });
    });

    const chart = new Chart(ref.current, {
      type: "scatter",
      data: { datasets },
      options: {
        animation: false,
        responsive: false,
        events: [],
        layout: { padding: { top: 1, right: 2, left: 0, bottom: 0 } },
        plugins: { legend: { display: false }, tooltip: { enabled: false } },
        scales: {
          x: { type: "logarithmic", min: E_MIN, max: E_MAX, display: false },
          y: {
            type: "logarithmic",
            min: F_MIN,
            max: F_MAX,
            afterBuildTicks: (s: any) => {
              s.ticks = fluxLabels.map((value) => ({ value }));
            },
            afterFit: fixWidth,
            grid: { display: false, drawTicks: false },
            border: { display: false },
            ticks: { font: tickFont, color: "#000", padding: 33, callback: (v: any) => String(v) },
          },
        },
      } as any,
      plugins: [crossPlugin, makeFrame(f.bold ? 2.6 : 1.3, fluxMinor, fluxLabels)],
    });
    return () => chart.destroy();
  }, [f]);

  return (
    <canvas
      ref={ref}
      width={1200}
      height={492}
      style={{ position: "absolute", left: 0, top: f.top, width: 1200, height: 492 }}
    />
  );
};

const ResidualPanel: React.FC<{ f: Field }> = ({ f }) => {
  const ref = useRef<HTMLCanvasElement | null>(null);

  useEffect(() => {
    if (!ref.current) return;
    const n = Math.min(f.data.length, f.resid.length);
    const pts: Pt[] = f.data
      .slice(0, n)
      .map((d, i) => [d[0], f.resid[i]] as Pt)
      .concat(f.residB)
      .sort((p, q) => p[0] - q[0]);
    const edges = binEdges(pts.map((p) => p[0]));
    const datasets: any[] = [
      {
        data: xy(pts),
        pointRadius: 0,
        bars: pts.map(([x, r], i) => ({ x, x0: edges[i][0], x1: edges[i][1], y: r, y0: r - 1, y1: r + 1 })),
        barColor: "#000",
        barWidth: f.bold ? 1.3 : 1.1,
      },
      curve([[E_MIN, 0], [E_MAX, 0]], "#00ff00", f.bold ? 4 : 1.8),
    ];
    f.rosat.forEach((r, i) => {
      const rr = f.rosatResid[i];
      datasets.push({
        data: [{ x: r.e, y: rr }],
        pointStyle: "rect",
        pointRadius: 4.5,
        borderColor: ROSAT_COLORS[i],
        backgroundColor: "rgba(0,0,0,0)",
        pointBorderWidth: 1.2,
        bars: [{ x: r.e, x0: r.lo, x1: r.hi, y: rr, y0: rr - 1, y1: rr + 1 }],
        barColor: f.rosatResidColors[i],
        barWidth: 1.4,
      });
    });

    const chart = new Chart(ref.current, {
      type: "scatter",
      data: { datasets },
      options: {
        animation: false,
        responsive: false,
        events: [],
        layout: { padding: { top: 0, right: 2, left: 0, bottom: 0 } },
        plugins: { legend: { display: false }, tooltip: { enabled: false } },
        scales: {
          x: {
            type: "logarithmic",
            min: E_MIN,
            max: E_MAX,
            afterBuildTicks: (s: any) => {
              s.ticks = energyLabels.map((value) => ({ value }));
            },
            afterFit: fixHeight,
            grid: { display: false, drawTicks: false },
            border: { display: false },
            ticks: {
              font: tickFont,
              color: "#000",
              padding: 9,
              autoSkip: false,
              maxRotation: 0,
              callback: (v: any) => String(v),
            },
          },
          y: {
            type: "linear",
            min: R_MIN,
            max: R_MAX,
            afterBuildTicks: (s: any) => {
              s.ticks = residLabels.map((value) => ({ value }));
            },
            afterFit: fixWidth,
            grid: { display: false, drawTicks: false },
            border: { display: false },
            ticks: {
              font: tickFont,
              color: "#000",
              padding: 30,
              callback: (v: any) => (v < 0 ? "\u2212" + Math.abs(v) : String(v)),
            },
          },
        },
      } as any,
      plugins: [crossPlugin, makeFrame(f.bold ? 2.6 : 1.3, residMinor, residLabels)],
    });
    return () => chart.destroy();
  }, [f]);

  return (
    <canvas
      ref={ref}
      width={1200}
      height={400}
      style={{ position: "absolute", left: 0, top: f.top + 492, width: 1200, height: 400 }}
    />
  );
};

const textAt = (left: number, top: number, size: number): React.CSSProperties => ({
  position: "absolute",
  left,
  top,
  transform: "translate(-50%, -50%)",
  whiteSpace: "nowrap",
  fontSize: size,
  lineHeight: 1,
});

const FieldFigure: React.FC<{ f: Field }> = ({ f }) => (
  <>
    <SpectrumPanel f={f} />
    <ResidualPanel f={f} />
    <div style={{ position: "absolute", left: 24, top: f.top + 492, width: 0, height: 0 }}>
      <div
        style={{
          position: "absolute",
          left: 0,
          top: 0,
          transform: "translate(-50%, -50%) rotate(-90deg)",
          whiteSpace: "nowrap",
          fontSize: 42.5,
          lineHeight: 1,
        }}
      >
        (data−model)/error counts/s/keV/cm2/deg2
      </div>
    </div>
    <div style={textAt(994, f.top + 117, 35)}>{f.label}</div>
    <div
      style={{
        position: "absolute",
        right: 43,
        top: f.top + 533,
        transform: "translateY(-50%)",
        whiteSpace: "nowrap",
        fontSize: 36,
        lineHeight: 1,
      }}
    >
      {f.obsId}
    </div>
    <div style={textAt(700, f.top + 867, 41)}>Energy (keV)</div>
  </>
);

const field1: Field = {
  top: 0,
  bold: true,
  label: "l=340.32 b=\u221228.3",
  obsId: "294147",
  data: f1Data,
  resid: f1Resid,
  residB: f1ResidB,
  total: f1Total,
  sky: f1Sky,
  particle: f1Particle,
  comps: [
    { pts: f1Red, color: "#ff0000" },
    { pts: f1Blue, color: "#0000ff" },
    { pts: f1Orange, color: "#ff8000" },
    { pts: f1Green, color: "#00ff00" },
    { pts: f1Magenta, color: "#ff00ff" },
  ],
  dotted: [f1Dot1, f1Dot2, f1Dot3, f1Dot4, f1Dot5, f1Dot6, f1Dot7],
  rosat: f1Rosat,
  rosatResid: f1RosatResid,
  rosatResidColors: ["#6c6c6c", "#90ee90"],
};

const field2: Field = {
  top: 1089,
  bold: false,
  label: "l=241.07 b=\u221228.9",
  obsId: "085126",
  data: f2Data,
  resid: f2Resid,
  residB: f2ResidB,
  total: f2Total,
  sky: f2Sky,
  particle: f2Particle,
  comps: [
    { pts: f2Red, color: "#ff0000" },
    { pts: f2Blue, color: "#0000ff" },
    { pts: f2Green, color: "#00ff00" },
    { pts: f2Magenta, color: "#ff00ff" },
  ],
  dotted: [f2Dot1, f2Dot2, f2Dot3, f2Dot4, f2Dot5, f2Dot6, f2Dot7],
  rosat: f2Rosat,
  rosatResid: f2RosatResid,
  rosatResidColors: ["#6c6c6c", "#b4b4b4"],
};

const App: React.FC = () => (
  <div
    style={{
      position: "absolute",
      left: 0,
      top: 0,
      width: 1200,
      height: 1985,
      background: "#fff",
      color: "#000",
      fontFamily: SERIF,
      overflow: "hidden",
    }}
  >
    <FieldFigure f={field1} />
    <FieldFigure f={field2} />
  </div>
);

export default App;
